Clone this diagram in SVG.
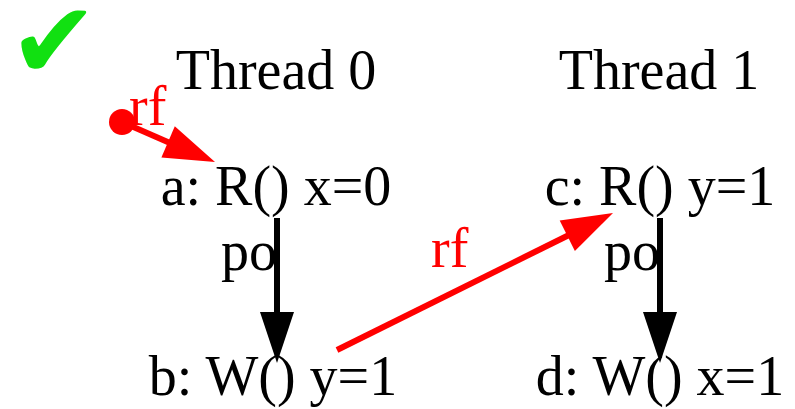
<svg xmlns="http://www.w3.org/2000/svg" width="795" height="409" viewBox="0 0 795 409">
<style>
text{font-family:"Liberation Serif","Times New Roman",serif;font-size:56px}
.lbl{text-anchor:middle;fill:#000}
.red{fill:#ff0000}
.po{stroke:#000;stroke-width:6;fill:none}
.poh{fill:#000}
.rf{stroke:#ff0000;stroke-width:6;fill:none}
.rfh{fill:#ff0000}
</style>
<rect width="795" height="409" fill="#fff"/>
<text x="9" y="78" style="font-family:'DejaVu Sans',sans-serif;font-size:107px;fill:#11e011">✔</text>
<g id="thread0"><text class="lbl" x="276" y="89">Thread 0</text></g>
<g id="thread1"><text class="lbl" x="659" y="89">Thread 1</text></g>
<g id="a"><text class="lbl" x="276" y="205">a: R() x=0</text></g>
<g id="b"><text class="lbl" x="273" y="395">b: W() y=1</text></g>
<g id="c"><text class="lbl" x="660" y="205">c: R() y=1</text></g>
<g id="d"><text class="lbl" x="660" y="395">d: W() x=1</text></g>
<g id="connectors">
<line class="po" x1="277" y1="218" x2="277" y2="314"/>
<polygon class="poh" points="260,312 294,312 277,363"/>
<text x="221" y="270">po</text>
<line class="po" x1="660" y1="218" x2="660" y2="314"/>
<polygon class="poh" points="643,312 677,312 660,363"/>
<text x="604" y="270">po</text>
<line class="rf" x1="337" y1="350" x2="569" y2="235"/>
<polygon class="rfh" points="559.7,220.5 574.9,250.9 613,213"/>
<text class="red" x="431" y="267">rf</text>
<circle cx="122" cy="122" r="13" fill="#ff0000"/>
<line class="rf" x1="122" y1="122" x2="170" y2="143"/>
<polygon class="rfh" points="174.8,126.3 161.4,157.5 215,162"/>
<text class="red" x="129" y="125">rf</text>
</g>
</svg>
